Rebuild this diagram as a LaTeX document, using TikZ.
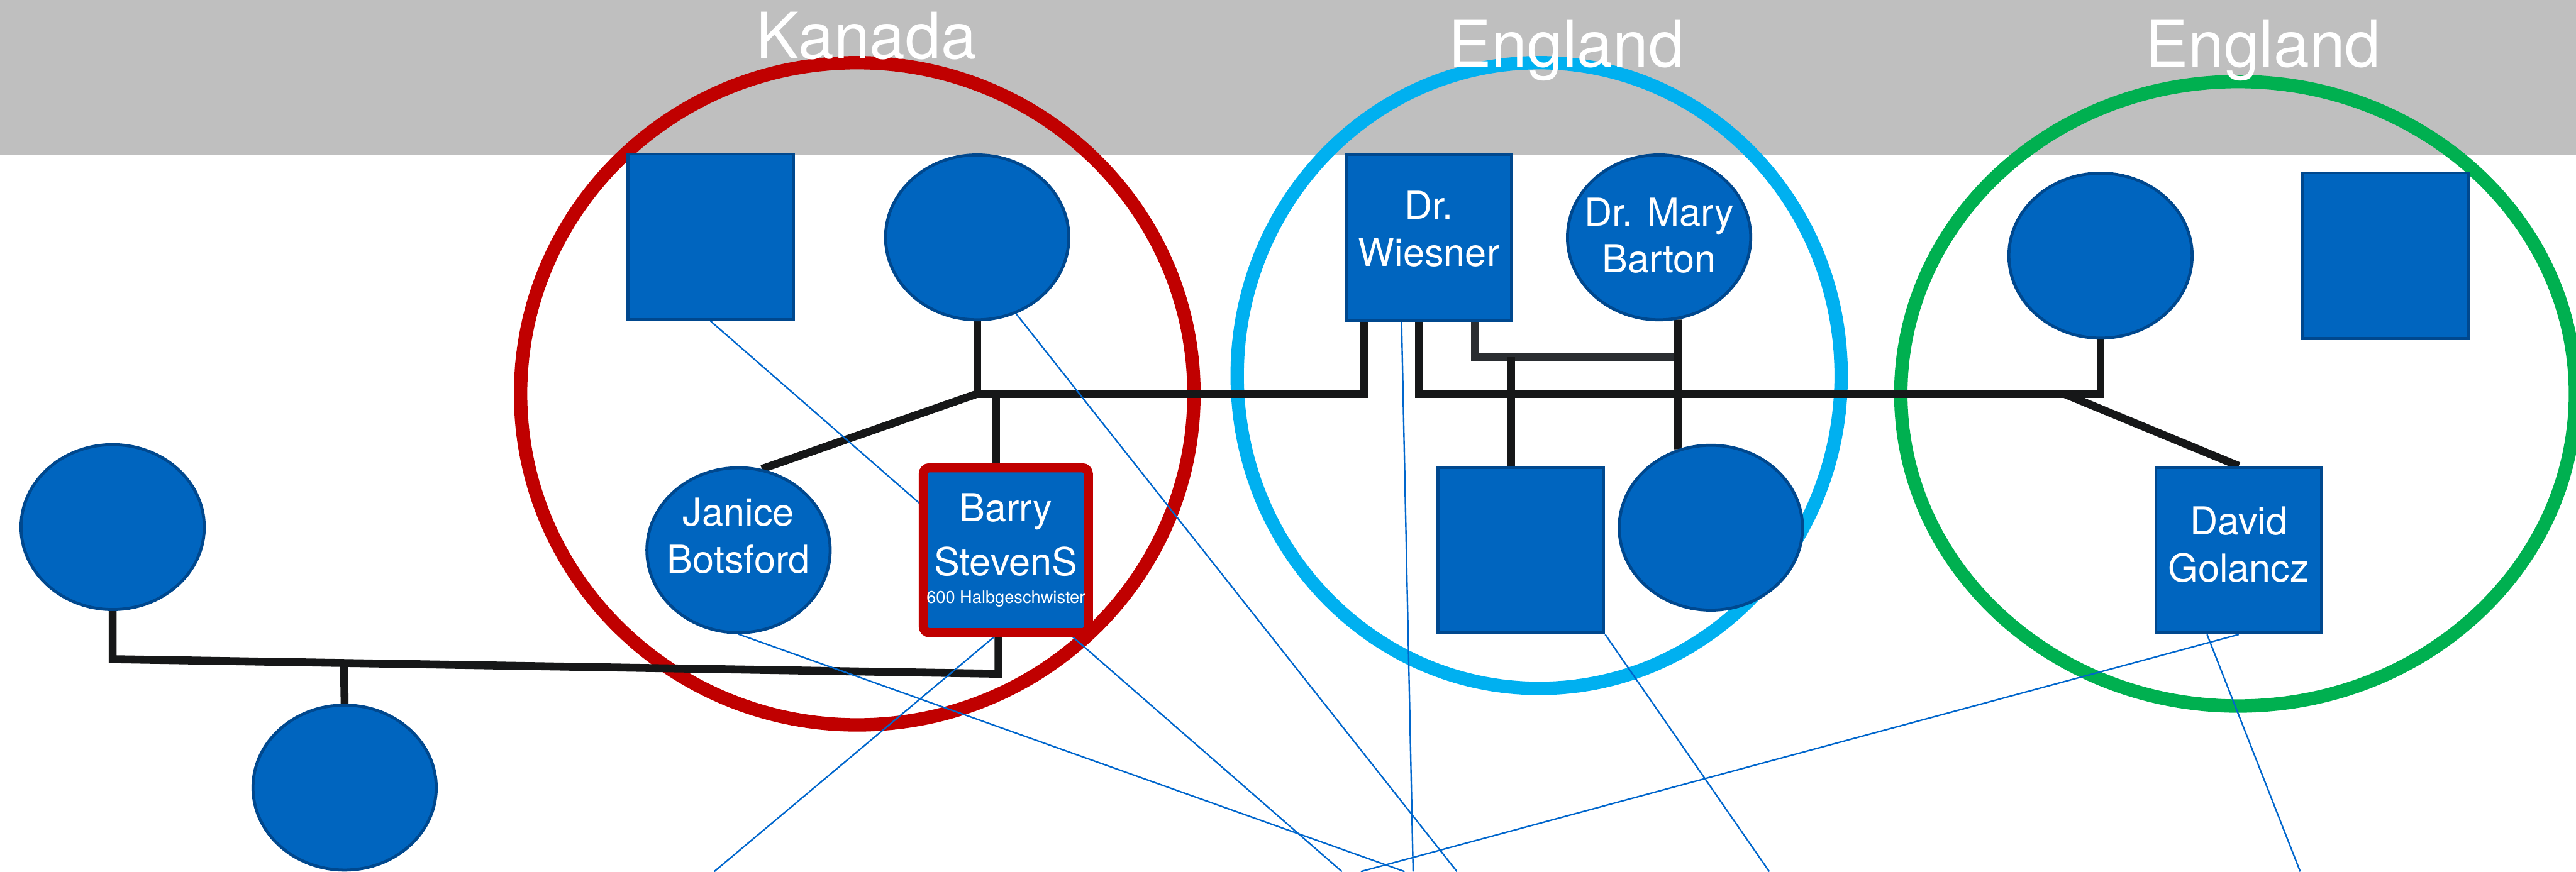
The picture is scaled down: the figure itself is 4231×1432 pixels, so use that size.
\documentclass[tikz,border=0pt]{standalone}
\usepackage{fontspec}
\setmainfont{TeX Gyre Heros}
\usepackage{xcolor}
\usepackage{tikz}
\usetikzlibrary{backgrounds}
\usetikzlibrary{shapes.geometric}
\definecolor{blau}{RGB}{0,101,191}
\definecolor{blaurand}{RGB}{0,72,142}
\definecolor{rot}{RGB}{192,0,0}
\definecolor{hellblau}{RGB}{0,176,240}
\definecolor{gruen}{RGB}{0,176,80}
\definecolor{grau}{RGB}{191,191,191}
\definecolor{schwarz}{RGB}{22,23,24}
\definecolor{dunkelgrau}{RGB}{42,45,49}
\definecolor{faden}{RGB}{0,102,204}
\tikzset{
  Person/.style={draw=blaurand, fill=blau, line width=1.4pt, inner sep=0pt}, % Grundform
  Mann/.style={Person, rectangle, minimum width=2.72cm, minimum height=2.72cm},
  Frau/.style={Person, ellipse, minimum width=3.01cm, minimum height=2.71cm},
  Beschriftung/.style={text=white, align=center, font=\fontsize{18}{22}\selectfont},
  Titel/.style={text=white, anchor=base, font=\fontsize{30}{36}\selectfont},
  Ring/.style={line width=6.26pt, draw=#1}, % Laendergruppen
  Linie/.style={line width=3.7pt, draw=schwarz, line join=miter}, % Verwandtschaft
  Faden/.style={line width=0.7pt, draw=faden} % Verbindungen nach unten
}

\begin{document}
\begin{tikzpicture}[x=0.1mm, y=-0.1mm]
\useasboundingbox (0,0) rectangle (4231,1432);

%Personen Kanada
\node[Mann] (kVater) at (1167,389) {};
\node[Frau] (kMutter) at (1605,390) {};
\node[Frau, label={[Beschriftung, yshift=2.4mm]center:Janice\\Botsford}] (janice) at (1213,904) {};
\node[Mann, draw=rot, line width=4.27pt, minimum width=2.71cm, minimum height=2.71cm, rounded corners=1mm,
  label={[Beschriftung]center:Barry\\[1.2mm]StevenS\\[-3.2mm]{\fontsize{8}{9}\selectfont 600 Halbgeschwister}}] (barry) at (1652,904) {};
\node[Frau] (links) at (185,866) {};
\node[Frau] (unten) at (566,1294) {};

%Personen England
\node[Mann, label={[Beschriftung, yshift=1.4mm]center:Dr.\\Wiesner}] (wiesner) at (2347,390) {};
\node[Frau, label={[Beschriftung, yshift=0.3mm]center:Dr. Mary\\Barton}] (mary) at (2725,390) {};
\node[Mann] (eSohn) at (2498,904) {};
\node[Frau] (eTochter) at (2810,867) {};
\node[Frau] (gMutter) at (3450,420) {};
\node[Mann] (gVater) at (3918,420) {};
\node[Mann, label={[Beschriftung, yshift=0.9mm]center:David\\Golancz}] (david) at (3677,904) {};

%Knotenpunkte
\coordinate (kJ) at (1605,647);
\coordinate (bJ) at (1636,647);
\coordinate (wL) at (2241,647);
\coordinate (wM) at (2331,647);
\coordinate (wR) at (2423,587);
\coordinate (mJ) at (2755,587);
\coordinate (sJ) at (2482,587);
\coordinate (dJ) at (3390,647);
\coordinate (lJ) at (185,1083);
\coordinate (rJ) at (1640,1107);
\coordinate (uJ) at (565,1089);

%Enden unten
\coordinate (f1) at (2204,1432);
\coordinate (f2) at (2393,1432);
\coordinate (f3) at (2307,1432);
\coordinate (f4) at (1173,1432);
\coordinate (f5) at (2321,1432);
\coordinate (f6) at (2906,1432);
\coordinate (f7) at (2235,1432);
\coordinate (f8) at (3778,1432);

\begin{scope}[on background layer]
\fill[grau] (0,0) rectangle (4231,255);

%Laender
\draw[Ring=rot] (1408,647) ellipse [x radius=5.53cm, y radius=5.44cm];
\draw[Ring=hellblau] (2528,617) ellipse [x radius=4.96cm, y radius=5.14cm];
\draw[Ring=gruen] (3676,647) ellipse [x radius=5.54cm, y radius=5.13cm];

%Linien
\draw[Linie] (kMutter.south) -- (kJ) -- (wL) -- (wL |- wiesner.south);
\draw[Linie] (kJ) -- (janice.74);
\draw[Linie] (bJ) -- (bJ |- barry.north);
\draw[Linie] (wM |- wiesner.south) -- (wM) -- (gMutter.south |- wM) -- (gMutter.south);
\draw[Linie] (dJ) -- (david.north);
\draw[Linie, draw=dunkelgrau] (wR |- wiesner.south) -- (wR) -- (mJ);
\draw[Linie] (mary.-77) -- (eTochter.113);
\draw[Linie] (sJ) -- (sJ |- eSohn.north);
\draw[Linie] (links.south) -- (lJ) -- (rJ) -- (rJ |- barry.south);
\draw[Linie] (uJ) -- (unten.north);

%Faeden
\draw[Faden] (kVater.south) -- (f1);
\draw[Faden] (kMutter.-63) -- (f2);
\draw[Faden] (janice.south) -- (f3);
\draw[Faden] ([xshift=-2mm]barry.south) -- (f4);
\draw[Faden] ([xshift=-4.5mm]wiesner.south) -- (f5);
\draw[Faden] (eSohn.south east) -- (f6);
\draw[Faden] (david.south) -- (f7);
\draw[Faden] ([xshift=-5.2mm]david.south) -- (f8);
\end{scope}

%Laendernamen
\node[Titel] (tKanada) at (1423,97) {Kanada};
\node[Titel] (tEngland) at (2573,110) {England};
\node[Titel] (tEnglandB) at (3717,110) {England};
\end{tikzpicture}
\end{document}
